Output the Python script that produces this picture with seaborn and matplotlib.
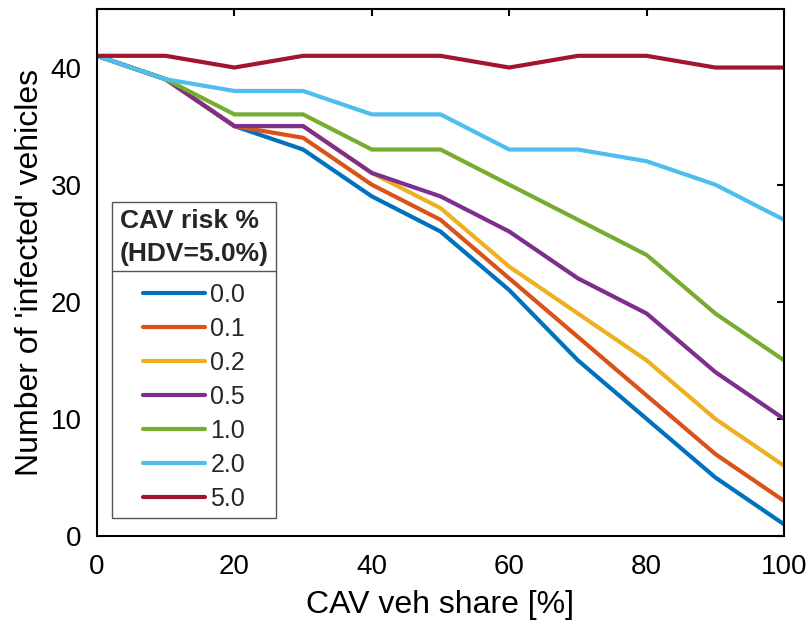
import numpy as np
import pandas as pd
import matplotlib
matplotlib.use("Agg")
import matplotlib.pyplot as plt
import seaborn as sns
from matplotlib.lines import Line2D

share = [0, 10, 20, 30, 40, 50, 60, 70, 80, 90, 100]
risk_labels = ["0.0", "0.1", "0.2", "0.5", "1.0", "2.0", "5.0"]
r00 = [41, 39, 35, 33, 29, 26, 21, 15, 10, 5, 1]
r01 = [41, 39, 35, 34, 30, 27, 22, 17, 12, 7, 3]
r02 = [41, 39, 35, 35, 31, 28, 23, 19, 15, 10, 6]
r05 = [41, 39, 35, 35, 31, 29, 26, 22, 19, 14, 10]
r10 = [41, 39, 36, 36, 33, 33, 30, 27, 24, 19, 15]
r20 = [41, 39, 38, 38, 36, 36, 33, 33, 32, 30, 27]
r50 = [41, 41, 40, 41, 41, 41, 40, 41, 41, 40, 40]
series = [r00, r01, r02, r05, r10, r20, r50]
colors = ["#0072BD", "#D95319", "#EDB120", "#7E2F8E", "#77AC30", "#4DBEEE", "#A2142F"]

rows = []
for lab, vals in zip(risk_labels, series):
    for x, y in zip(share, vals):
        rows.append({"share": x, "infected": y, "risk": lab})
df = pd.DataFrame(rows)

sns.set_theme(style="white")
plt.rcParams['font.family'] = ['Liberation Sans', 'DejaVu Sans']

fig = plt.figure(figsize=(8.11, 6.28), dpi=100)
ax = fig.add_axes([0.1196, 0.1465, 0.8471, 0.8392])
sns.lineplot(data=df, x="share", y="infected", hue="risk", hue_order=risk_labels,
             palette=colors, linewidth=3, ax=ax, legend=False)

ax.set_xlim(0, 100)
ax.set_ylim(0, 45)
ax.set_xticks([0, 20, 40, 60, 80, 100])
ax.set_yticks([0, 10, 20, 30, 40])
ax.tick_params(direction='in', length=5, width=1.5, top=True, right=True,
               labelsize=20, colors='black')
ax.tick_params(axis='x', pad=13)
ax.tick_params(axis='y', pad=11)
for s in ax.spines.values():
    s.set_visible(True)
    s.set_color('black')
    s.set_linewidth(1.5)
ax.set_xlabel("CAV veh share [%]", fontsize=23, color='black', labelpad=7)
ax.set_ylabel("Number of 'infected' vehicles", fontsize=23, color='black', labelpad=4)

handles = [Line2D([0], [0], color=c, lw=3) for c in colors]
leg = ax.legend(handles, risk_labels, title="CAV risk %\n(HDV=5.0%)",
                loc='lower left', bbox_to_anchor=(0.022, 0.034),
                fontsize=18, title_fontproperties={'weight': 'bold', 'size': 19},
                frameon=True, fancybox=False, edgecolor='#555555', framealpha=1,
                handlelength=2.5, handletextpad=0.2, labelspacing=0.4,
                borderpad=0.3, borderaxespad=0)
leg.get_frame().set_linewidth(1.0)
leg.get_title().set_linespacing(1.45)
leg._legend_box.align = "center"
leg._legend_box.sep = 12

fig.canvas.draw()
fb = leg.get_frame().get_window_extent()
tb = leg.get_title().get_window_extent()
inv = fig.transFigure.inverted()
ysep = tb.y0 - 5
(x0, y0) = inv.transform((fb.x0, ysep))
(x1, _) = inv.transform((fb.x1, ysep))
fig.add_artist(Line2D([x0, x1], [y0, y0], color='#555555', lw=1.0))

fig.savefig("out.png", dpi=100)
